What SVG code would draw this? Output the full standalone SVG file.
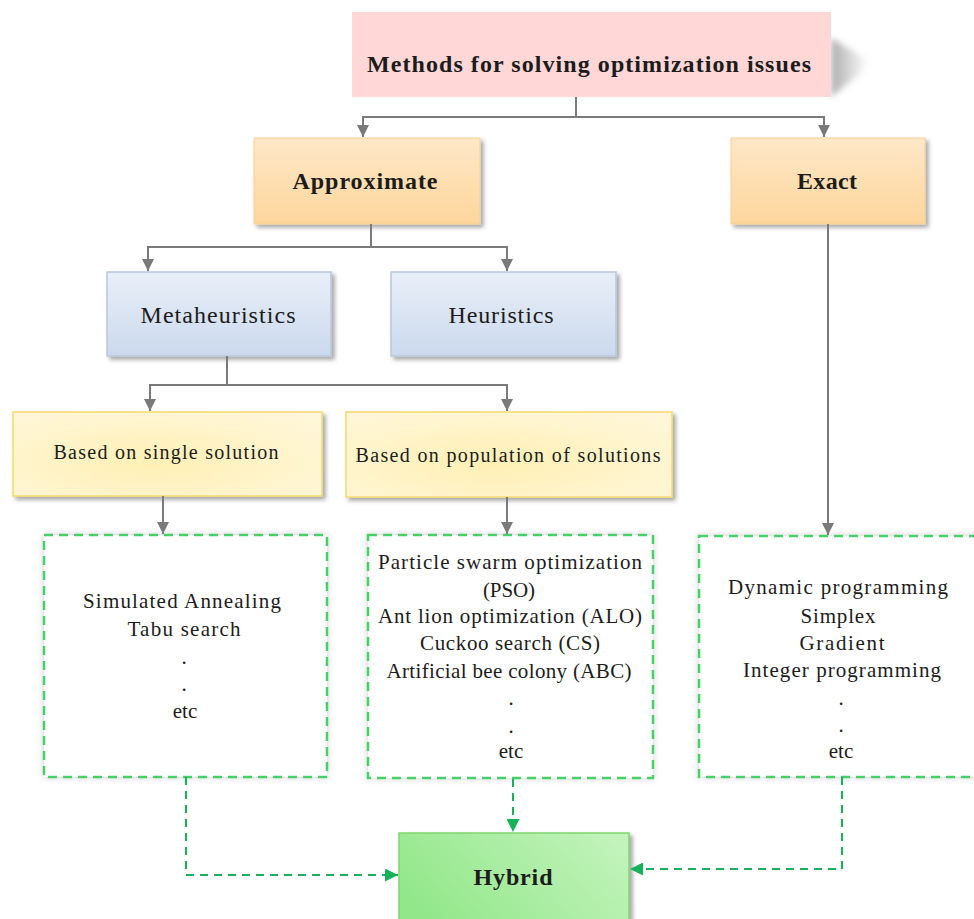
<svg xmlns="http://www.w3.org/2000/svg" width="974" height="919" viewBox="0 0 974 919">
  <defs>
    <linearGradient id="gOrange" x1="0" y1="0" x2="0" y2="1">
      <stop offset="0" stop-color="#fee8c8"/>
      <stop offset="1" stop-color="#fdd69c"/>
    </linearGradient>
    <linearGradient id="gBlue" x1="0" y1="0" x2="0" y2="1">
      <stop offset="0" stop-color="#e9eff8"/>
      <stop offset="1" stop-color="#cbd9ed"/>
    </linearGradient>
    <radialGradient id="gYellow" cx="0.45" cy="0.6" r="0.75">
      <stop offset="0" stop-color="#fff0b4"/>
      <stop offset="1" stop-color="#fff7dc"/>
    </radialGradient>
    <linearGradient id="gGreen" x1="0" y1="0.6" x2="1" y2="0.2">
      <stop offset="0" stop-color="#92e78a"/>
      <stop offset="1" stop-color="#c2f3bb"/>
    </linearGradient>
    <linearGradient id="gCast" x1="0" y1="0" x2="1" y2="0">
      <stop offset="0" stop-color="#8a8a8a" stop-opacity="0.7"/>
      <stop offset="1" stop-color="#8a8a8a" stop-opacity="0"/>
    </linearGradient>
    <filter id="shadow" x="-10%" y="-10%" width="125%" height="130%">
      <feDropShadow dx="3" dy="3" stdDeviation="2" flood-color="#000" flood-opacity="0.35"/>
    </filter>
    <filter id="halo" x="-10%" y="-10%" width="120%" height="120%">
      <feDropShadow dx="0" dy="0" stdDeviation="3" flood-color="#000" flood-opacity="0.18"/>
    </filter>
    <filter id="blur" x="-50%" y="-50%" width="200%" height="200%">
      <feGaussianBlur stdDeviation="3"/>
    </filter>
    <marker id="arrowGray" markerUnits="userSpaceOnUse" markerWidth="12" markerHeight="12" refX="10" refY="5" orient="auto" viewBox="0 0 10 10">
      <path d="M0,0 L10,5 L0,10 Z" fill="#7a7a7a"/>
    </marker>
    <marker id="arrowGreen" markerUnits="userSpaceOnUse" markerWidth="13" markerHeight="13" refX="10" refY="5" orient="auto" viewBox="0 0 10 10">
      <path d="M0,0 L10,5 L0,10 Z" fill="#16b25a"/>
    </marker>
  </defs>
  <style>
    text { font-family: "Liberation Serif", "Times New Roman", serif; fill: #1c1c1c; text-anchor: middle; }
    .bold { font-weight: bold; }
    .big { font-size: 24px; }
    .mid { font-size: 20px; }
    .list { font-size: 21px; }
    .orange { fill: url(#gOrange); stroke: #f7cf95; stroke-width: 1; filter: url(#shadow); }
    .blue { fill: url(#gBlue); stroke: #b9c7da; stroke-width: 1.5; filter: url(#shadow); }
    .yellow { fill: url(#gYellow); stroke: #f4da6e; stroke-width: 1.5; filter: url(#shadow); }
    .dashbox { fill: #ffffff; stroke: #45d068; stroke-width: 2.5; stroke-dasharray: 9 6; filter: url(#halo); }
    .link { fill: none; stroke: #7a7a7a; stroke-width: 2; }
    .glink { fill: none; stroke: #16b25a; stroke-width: 2; stroke-dasharray: 8 6; }
  </style>

  <rect width="974" height="919" fill="#ffffff"/>

  <!-- top node with its cast shadow -->
  <g id="methods">
    <polygon points="831,38 868,60 862,72 831,97" fill="url(#gCast)" filter="url(#blur)"/>
    <rect x="352" y="12" width="479" height="85" fill="#ffd7d7"/>
    <text class="bold big" x="589" y="72" textLength="444" lengthAdjust="spacing">Methods for solving optimization issues</text>
  </g>

  <g id="approximate">
    <rect class="orange" x="254" y="138" width="226" height="86"/>
    <text class="bold big" x="365" y="189" textLength="145" lengthAdjust="spacing">Approximate</text>
  </g>

  <g id="exact">
    <rect class="orange" x="731" y="138" width="194" height="86"/>
    <text class="bold big" x="827" y="189" textLength="60" lengthAdjust="spacing">Exact</text>
  </g>

  <g id="metaheuristics">
    <rect class="blue" x="107" y="272" width="224" height="84"/>
    <text class="big" x="218" y="323" textLength="155" lengthAdjust="spacing">Metaheuristics</text>
  </g>

  <g id="heuristics">
    <rect class="blue" x="391" y="272" width="225" height="84"/>
    <text class="big" x="501" y="323" textLength="105" lengthAdjust="spacing">Heuristics</text>
  </g>

  <g id="single-solution">
    <rect class="yellow" x="13" y="412" width="309" height="84"/>
    <text class="mid" x="166" y="459" textLength="225" lengthAdjust="spacing">Based on single solution</text>
  </g>

  <g id="population">
    <rect class="yellow" x="346" y="412" width="326" height="85"/>
    <text class="mid" x="508" y="462" textLength="305" lengthAdjust="spacing">Based on population of solutions</text>
  </g>

  <g id="single-list">
    <rect class="dashbox" x="44" y="535" width="283" height="242"/>
    <text class="list" x="182" y="608" textLength="198" lengthAdjust="spacing">Simulated Annealing</text>
    <text class="list" x="184" y="636" textLength="113" lengthAdjust="spacing">Tabu search</text>
    <text class="list" x="184" y="664">.</text>
    <text class="list" x="184" y="691">.</text>
    <text class="list" x="185" y="718">etc</text>
  </g>

  <g id="population-list">
    <rect class="dashbox" x="368" y="535" width="285" height="243"/>
    <text class="list" x="510" y="569" textLength="264" lengthAdjust="spacing">Particle swarm optimization</text>
    <text class="list" x="509" y="597" textLength="52" lengthAdjust="spacing">(PSO)</text>
    <text class="list" x="510" y="623" textLength="264" lengthAdjust="spacing">Ant lion optimization (ALO)</text>
    <text class="list" x="510" y="650" textLength="180" lengthAdjust="spacing">Cuckoo search (CS)</text>
    <text class="list" x="509" y="678" textLength="245" lengthAdjust="spacing">Artificial bee colony (ABC)</text>
    <text class="list" x="511" y="705">.</text>
    <text class="list" x="511" y="733">.</text>
    <text class="list" x="511" y="758">etc</text>
  </g>

  <g id="exact-list">
    <rect class="dashbox" x="699" y="536" width="300" height="241"/>
    <text class="list" x="838" y="594" textLength="220" lengthAdjust="spacing">Dynamic programming</text>
    <text class="list" x="838" y="623" textLength="75" lengthAdjust="spacing">Simplex</text>
    <text class="list" x="842" y="650" textLength="85" lengthAdjust="spacing">Gradient</text>
    <text class="list" x="842" y="677" textLength="198" lengthAdjust="spacing">Integer programming</text>
    <text class="list" x="841" y="705">.</text>
    <text class="list" x="841" y="732">.</text>
    <text class="list" x="841" y="758">etc</text>
  </g>

  <g id="hybrid">
    <rect x="399" y="833" width="230" height="100" fill="url(#gGreen)" stroke="#80d56f" stroke-width="1.5" filter="url(#shadow)"/>
    <text class="bold big" x="513" y="885" textLength="79" lengthAdjust="spacing">Hybrid</text>
  </g>

  <g id="connectors">
    <path class="link" d="M576,97 V117 H363 V137" marker-end="url(#arrowGray)"/>
    <path class="link" d="M576,117 H824 V137" marker-end="url(#arrowGray)"/>
    <path class="link" d="M371,224 V247 H148 V271" marker-end="url(#arrowGray)"/>
    <path class="link" d="M371,247 H507 V271" marker-end="url(#arrowGray)"/>
    <path class="link" d="M227,356 V385 H150 V411" marker-end="url(#arrowGray)"/>
    <path class="link" d="M227,385 H507 V411" marker-end="url(#arrowGray)"/>
    <path class="link" d="M163,496 V534" marker-end="url(#arrowGray)"/>
    <path class="link" d="M507,497 V534" marker-end="url(#arrowGray)"/>
    <path class="link" d="M828,224 V535" marker-end="url(#arrowGray)"/>
    <path class="glink" d="M186,777 V875 H398" marker-end="url(#arrowGreen)"/>
    <path class="glink" d="M513,779 V832" marker-end="url(#arrowGreen)"/>
    <path class="glink" d="M842,777 V869 H630" marker-end="url(#arrowGreen)"/>
  </g>
</svg>
